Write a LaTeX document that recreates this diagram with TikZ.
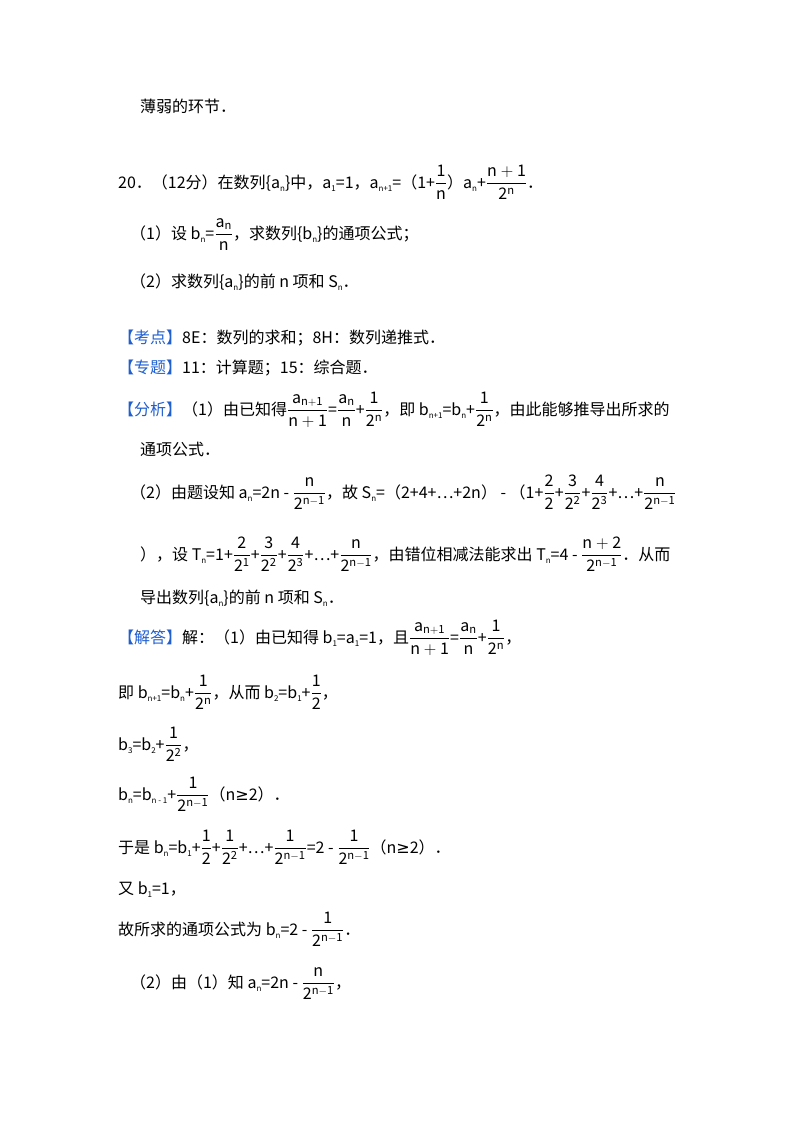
\documentclass[tikz,border=0pt]{standalone}
\usepackage{amsmath}
\usepackage{fontspec}
\setmainfont{Noto Sans CJK SC}
\newfontfamily\djvfont{DejaVu Sans}
\definecolor{kb}{HTML}{1F5FD0}
\newcommand{\sbs}[1]{\raisebox{-0.35ex}{\fontsize{8}{8}\selectfont #1}}
\newcommand{\fr}[2]{$\dfrac{\mathrm{#1}}{\mathrm{#2}}$}
\newcommand{\bk}[1]{{\color{kb}【#1】}}
\newcommand{\geqs}{{\djvfont ≥}}
\begin{document}
\begin{tikzpicture}[x=1pt,y=1pt,
 tl/.style={anchor=base west,inner sep=0pt,font=\fontsize{16}{18}\selectfont}]
\useasboundingbox[fill=white] (0,0) rectangle (800,-1132);
\node[tl] (l1) at (140,-112) {薄弱的环节．};
\node[tl] (l2) at (118,-188) {20．（12分）在数列\{a\sbs{n}\}中，a\sbs{1}=1，a\sbs{n+1}=（1+\fr{1}{n}）a\sbs{n}+\fr{n+1}{2^n}．};
\node[tl] (l3) at (130,-239) {（1）设 b\sbs{n}=\fr{a_n}{n}，求数列\{b\sbs{n}\}的通项公式；};
\node[tl] (l4) at (130,-287) {（2）求数列\{a\sbs{n}\}的前 n 项和 S\sbs{n}．};
\node[tl] (l5) at (118,-343) {\bk{考点}8E：数列的求和；8H：数列递推式．};
\node[tl] (l6) at (118,-373) {\bk{专题}11：计算题；15：综合题．};
\node[tl] (l7) at (118,-415) {\bk{分析}（1）由已知得\fr{a_{n+1}}{n+1}=\fr{a_n}{n}+\fr{1}{2^n}，即 b\sbs{n+1}=b\sbs{n}+\fr{1}{2^n}，由此能够推导出所求的};
\node[tl] (l8) at (140,-455) {通项公式．};
\node[tl] (l9) at (130,-498) {（2）由题设知 a\sbs{n}=2n - \fr{n}{2^{n-1}}，故 S\sbs{n}=（2+4+…+2n） - （1+\fr{2}{2}+\fr{3}{2^2}+\fr{4}{2^3}+…+\fr{n}{2^{n-1}}};
\node[tl] (l10) at (140,-560) {），设 T\sbs{n}=1+\fr{2}{2^1}+\fr{3}{2^2}+\fr{4}{2^3}+…+\fr{n}{2^{n-1}}，由错位相减法能求出 T\sbs{n}=4 - \fr{n+2}{2^{n-1}}．从而};
\node[tl] (l11) at (140,-603) {导出数列\{a\sbs{n}\}的前 n 项和 S\sbs{n}．};
\node[tl] (l12) at (118,-643) {\bk{解答}解：（1）由已知得 b\sbs{1}=a\sbs{1}=1，且\fr{a_{n+1}}{n+1}=\fr{a_n}{n}+\fr{1}{2^n}，};
\node[tl] (l13) at (118,-698) {即 b\sbs{n+1}=b\sbs{n}+\fr{1}{2^n}，从而 b\sbs{2}=b\sbs{1}+\fr{1}{2}，};
\node[tl] (l14) at (118,-750) {b\sbs{3}=b\sbs{2}+\fr{1}{2^2}，};
\node[tl] (l15) at (118,-800) {b\sbs{n}=b\sbs{n - 1}+\fr{1}{2^{n-1}}（n\geqs2）．};
\node[tl] (l16) at (118,-853) {于是 b\sbs{n}=b\sbs{1}+\fr{1}{2}+\fr{1}{2^2}+…+\fr{1}{2^{n-1}}=2 - \fr{1}{2^{n-1}}（n\geqs2）．};
\node[tl] (l17) at (118,-894) {又 b\sbs{1}=1，};
\node[tl] (l18) at (118,-935) {故所求的通项公式为 b\sbs{n}=2 - \fr{1}{2^{n-1}}．};
\node[tl] (l19) at (130,-988) {（2）由（1）知 a\sbs{n}=2n - \fr{n}{2^{n-1}}，};
\end{tikzpicture}
\end{document}
